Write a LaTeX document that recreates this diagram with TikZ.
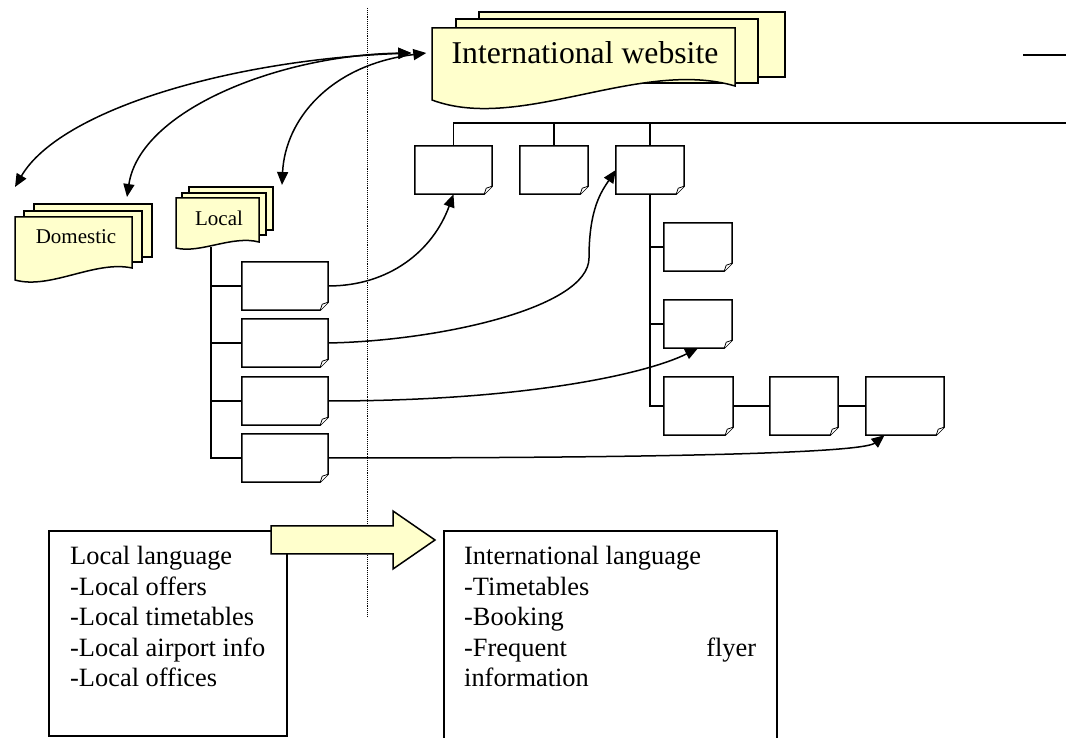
\documentclass[tikz,border=0pt]{standalone}
\usepackage{fontspec}
\setmainfont{Liberation Serif}
\usetikzlibrary{arrows.meta,calc}
\definecolor{docfill}{RGB}{255,255,204}
\begin{document}
\begin{tikzpicture}[x=1pt,y=1pt,
  ln/.style={line width=1.5pt},
  docshape/.style={draw=black, line width=1.5pt, fill=docfill},
  pagebox/.style={rectangle, inner sep=0pt, minimum height=48pt},
  arr/.style={-{Triangle[length=13pt,width=11pt]}},
  darr/.style={{Triangle[length=13pt,width=11pt]}-{Triangle[length=13pt,width=11pt]}},
  bodytext/.style={font=\fontsize{26.4}{30.5}\selectfont, anchor=base west, align=flush left, inner sep=0pt},
  smalllabel/.style={font=\fontsize{21}{24}\selectfont, inner sep=0pt},
]
\useasboundingbox (0,0) rectangle (1066,738);

% dotted separator
\coordinate (dtop) at (367,730);
\coordinate (dbot) at (367,121);
\draw[densely dotted, line width=0.9pt] (dtop) -- (dbot);

% International website stack
\draw[docshape] (479,661) rectangle (785,726);
\draw[docshape] (456,655) rectangle (758,719);
\draw[docshape] (432,638) .. controls (520,605) and (640,680) .. (735,652) -- (735,710) -- (432,710) -- cycle;
\node[minimum width=303pt, minimum height=54pt, inner sep=0pt, font=\fontsize{31.7}{36}\selectfont] (intl) at (585,685) {International website};

% Domestic stack
\draw[docshape] (34,481) rectangle (152,534);
\draw[docshape] (24,476) rectangle (142,527);
\draw[docshape] (15,458) .. controls (50,448) and (95,478) .. (132,470) -- (132,521) -- (15,521) -- cycle;
\node[smalllabel] (dom) at (76,501) {Domestic};

% Local stack
\draw[docshape] (189,508) rectangle (273,551);
\draw[docshape] (182,503) rectangle (266,545);
\draw[docshape] (176,490) .. controls (200,484) and (232,503) .. (259,496) -- (259,540) -- (176,540) -- cycle;
\node[smalllabel] (local) at (219,520) {Local};
\coordinate (ltree) at (211,491);

% page boxes
\node[pagebox, minimum width=86pt] (b1) at (285,452) {};
\node[pagebox, minimum width=86pt] (b2) at (285,395) {};
\node[pagebox, minimum width=86pt] (b3) at (285,337) {};
\node[pagebox, minimum width=86pt] (b4) at (285,280) {};
\node[pagebox, minimum width=77pt] (t1) at (453.5,568) {};
\node[pagebox, minimum width=68pt] (t2) at (554,568) {};
\node[pagebox, minimum width=68pt] (t3) at (650,568) {};
\node[pagebox, minimum width=68pt] (c1) at (698,491) {};
\node[pagebox, minimum width=68pt] (c2) at (698,414) {};
\node[pagebox, minimum width=69pt, minimum height=58pt] (c3) at (698.5,332) {};
\node[pagebox, minimum width=68pt, minimum height=58pt] (d) at (804,332) {};
\node[pagebox, minimum width=78pt, minimum height=58pt] (e) at (905,332) {};

% tree lines
\draw[ln] (ltree) |- (b1.west);
\draw[ln] (ltree) |- (b2.west);
\draw[ln] (ltree) |- (b3.west);
\draw[ln] (ltree) |- (b4.west);
\coordinate (redge) at (1066,615);
\draw[ln] (t1.north) |- (redge);
\draw[ln] (t2.north) -- (t2.north |- redge);
\draw[ln] (t3.north) -- (t3.north |- redge);
\draw[ln] (t3.south) |- (c1.west);
\draw[ln] (t3.south) |- (c2.west);
\draw[ln] (t3.south) |- (c3.west);
\draw[ln] (c3.east) -- (d.west);
\draw[ln] (d.east) -- (e.west);
\coordinate (r1) at (1023,683);
\coordinate (r2) at (1066,683);
\draw[ln] (r1) -- (r2);

% page outlines with folded corner
\foreach \n in {b1,b2,b3,b4,t1,t2,t3,c1,c2,c3,d,e}{
  \draw[ln, fill=white] (\n.north west) -- (\n.north east) -- ([yshift=8pt]\n.south east)
     -- ([xshift=-8pt]\n.south east) -- (\n.south west) -- cycle;
  \draw[line width=0.8pt, fill=white] ([xshift=-8pt]\n.south east) -- ([xshift=-6pt,yshift=6pt]\n.south east) -- ([yshift=8pt]\n.south east);
}

% connectors local -> international pages
\draw[ln, arr] (b1.east) to[out=0,in=-110] (t1.south);
\coordinate (bend2) at (589,480);
\draw[ln, arr] (b2.east) .. controls +(110,2) and +(0,-50) .. (bend2) .. controls +(0,50) and +(-14,-21) .. (t3.west);
\draw[ln, arr] (b3.east) .. controls +(200,0) and +(-50,-25) .. (c2.south);
\draw[ln, arr] (b4.east) .. controls +(400,0) and +(-20,-16) .. (e.235);

% double arrows to the international website
\draw[ln, darr] ($(dom)+(-61,50)$) .. controls +(45,77) and +(-181.5,-7) .. ([xshift=-22pt]intl.west);
\draw[ln, darr] ($(dom)+(51,40)$) .. controls +(13,87) and +(-131.5,-2) .. ([xshift=-22pt]intl.west);
\draw[ln, darr] ($(local)+(63,33)$) .. controls +(3,65) and +(-96.5,-12) .. ([xshift=-7pt]intl.west);

% bottom boxes
\draw[ln] (49,2) rectangle (287,207);
\draw[ln] (444,-10) rectangle (777,207);
\node[bodytext, text width=210pt] (loctext) at (70,173) {Local language\\-Local offers\\-Local timetables\\-Local airport info\\-Local offices};
\node[bodytext, text width=292pt] (inttext) at (464,173) {International language\\-Timetables\\-Booking\\-Frequent\hfill flyer\\information};

% block arrow
\draw[docshape] (271,212) -- (393,212) -- (393,227) -- (435,198) -- (393,169) -- (393,184) -- (271,184) -- cycle;
\end{tikzpicture}
\end{document}
